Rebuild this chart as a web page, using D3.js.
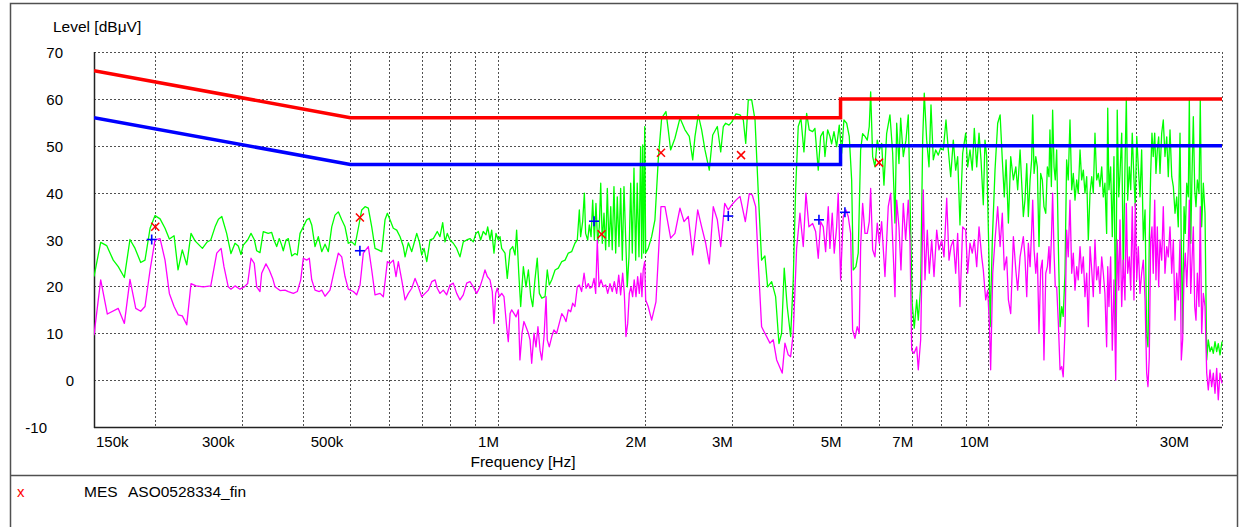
<!DOCTYPE html>
<html><head><meta charset="utf-8">
<script src="https://cdn.jsdelivr.net/npm/d3@7"></script>
<style>
html,body{margin:0;padding:0;background:#fff;}
svg{display:block;font-family:"Liberation Sans",Arial,sans-serif;}
</style></head><body>
<svg id="chart" width="1241" height="527"></svg>
<script>
// ---------- DATA (frequency in MHz, level in dBµV) ----------
const qpLimit = [[0.15,66],[0.5,56],[5,56],[5,60],[30,60]];
const avLimit = [[0.15,56],[0.5,46],[5,46],[5,50],[30,50]];

const peakTrace = [
[0.150,22.1],[0.1548,29.4],[0.1592,28.7],[0.1642,25.6],[0.1681,24.2],[0.1730,21.9],[0.1776,30.0],[0.1819,28.1],[0.1868,25.1],[0.1906,25.6],[0.1952,32.4],[0.1998,35.1],[0.2046,34.4],[0.2094,32.4],[0.2137,30.1],[0.2185,30.8],[0.2226,23.5],[0.2271,27.8],[0.2319,24.6],[0.2366,31.3],[0.2411,29.7],[0.2496,28.1],[0.2548,29.4],[0.2596,29.9],[0.2649,32.7],[0.2691,34.3],[0.2734,34.9],[0.2797,31.3],[0.2854,27.0],[0.2909,29.2],[0.2954,28.6],[0.2992,26.8],[0.3024,28.8],[0.3087,29.9],[0.3136,31.3],[0.3184,30.0],[0.3221,27.6],[0.3271,27.2],
[0.3322,31.7],[0.3400,31.3],[0.3456,31.5],[0.3493,29.9],[0.3538,28.5],[0.3581,30.2],[0.3622,28.8],[0.3649,27.6],[0.3697,29.9],[0.3737,30.2],[0.3797,26.5],[0.3856,27.0],[0.3898,26.7],[0.3948,31.3],[0.4009,32.7],[0.4074,34.2],[0.4124,34.5],[0.4171,33.1],[0.4236,28.5],[0.4302,30.6],[0.4372,27.4],[0.4440,29.0],[0.4509,27.4],[0.4582,32.7],[0.4653,35.2],[0.4726,35.9],[0.4802,34.2],[0.4877,32.7],[0.4953,29.2],[0.5033,29.5],[0.5112,28.8],[0.5191,32.4],[0.5275,36.3],[0.5358,37.0],[0.5441,36.7],[0.5529,32.7],[0.5615,28.1],[0.5703,27.8],[0.5795,27.4],[0.5885,34.2],[0.5950,35.6],[0.6025,34.2],[0.6119,32.4],[0.6218,32.0],[0.6316,30.6],[0.6414,28.5],[0.6466,26.3],[0.6567,29.3],[0.6672,27.4],[0.6745,29.2],[0.6831,31.3],[0.6915,29.5],[0.6993,26.7],[0.7069,28.1],[0.7160,25.3],[0.7272,29.9],[0.7385,30.2],[0.7522,31.7],[0.7618,30.6],[0.7716,33.6],[0.7800,29.5],[0.7884,31.3],[0.7985,29.9],
[0.8110,29.2],[0.8240,28.1],[0.8369,26.3],[0.8500,29.5],[0.8636,29.9],[0.8771,30.2],[0.8907,29.5],[0.9021,31.3],[0.9119,31.7],[0.9222,29.9],[0.9336,31.7],[0.9456,31.0],[0.9532,32.7],[0.9636,29.9],[0.9713,32.0],[0.9818,27.1],[0.9911,31.3],[1.0019,29.9],[1.010,30.6],[1.018,28.1],[1.034,27.1],[1.045,21.7],[1.059,27.8],[1.072,28.5],[1.084,26.7],[1.092,32.0],[1.103,22.8],[1.113,15.7],[1.127,24.2],[1.141,19.9],[1.154,23.5],[1.167,17.8],[1.178,15.7],[1.190,21.4],[1.203,26.0],[1.215,18.5],[1.229,17.5],[1.248,17.8],[1.261,23.5],[1.273,20.3],[1.288,21.4],[1.308,23.5],[1.328,23.9],[1.350,25.3],[1.371,25.6],[1.392,27.1],[1.414,27.4],[1.436,29.2],[1.452,29.9],[1.466,36.3],[1.475,30.6],[1.489,33.8],[1.501,39.9],[1.510,31.3],[1.525,29.9],[1.536,33.1],[1.549,30.6],[1.561,38.4],[1.573,29.9],[1.585,37.7],[1.598,29.2],[1.610,32.7],[1.621,42.0],[1.633,29.2],[1.646,35.6],[1.659,27.8],[1.672,40.9],[1.685,28.5],[1.699,37.0],[1.711,27.8],[1.725,41.3],[1.739,27.1],[1.752,39.1],[1.766,28.5],[1.780,40.9],[1.794,25.6],[1.808,41.3],[1.823,29.9],[1.836,19.9],[1.851,26.3],[1.866,42.0],[1.880,27.1],[1.895,45.2],[1.910,25.6],[1.924,42.0],[1.940,26.3],
[1.955,49.8],[1.965,26.0],[1.974,50.2],[1.983,27.1],[1.993,54.1],[2.002,27.1],[2.026,28.1],[2.059,30.6],[2.091,34.2],[2.124,47.0],[2.158,55.9],[2.202,57.3],[2.226,53.4],[2.251,49.1],[2.297,51.6],[2.352,55.9],[2.408,53.4],[2.457,52.0],[2.497,47.0],[2.524,52.0],[2.563,56.6],[2.604,53.4],[2.645,49.1],[2.699,44.8],[2.743,52.3],[2.803,54.1],[2.848,48.7],[2.883,54.1],[2.915,54.8],[2.961,54.4],[3.000,55.1],[3.060,56.8],[3.118,56.6],[3.167,55.5],[3.203,50.5],[3.242,59.8],[3.294,59.8],[3.346,55.5],[3.398,39.9],[3.451,25.6],[3.505,26.5],[3.550,19.9],[3.618,21.0],[3.686,17.8],[3.744,7.8],[3.791,10.0],[3.838,23.9],[3.892,15.7],[3.955,9.3],[4.004,21.4],[4.049,40.6],[4.099,54.1],[4.151,55.9],[4.210,48.7],[4.264,56.9],[4.316,53.4],[4.386,53.0],[4.433,53.7],[4.503,44.8],[4.554,52.0],[4.610,53.0],[4.647,47.7],[4.706,53.4],[4.757,52.0],
[4.795,50.4],[4.848,53.0],[4.909,49.8],[4.970,54.4],[5.026,48.4],[5.080,55.5],[5.146,54.8],[5.209,52.0],[5.268,42.7],[5.307,23.5],[5.375,24.2],[5.433,27.1],[5.495,49.1],[5.547,52.6],[5.608,52.0],[5.669,51.2],[5.722,54.1],[5.760,61.5],[5.814,47.7],[5.877,45.5],[5.941,51.2],[6.000,49.1],[6.065,50.5],[6.131,41.6],[6.209,52.6],[6.306,56.6],[6.387,48.4],[6.457,33.5],[6.509,54.8],[6.579,46.2],[6.632,55.9],[6.714,47.7],[6.799,51.2],[6.873,56.6],[6.928,39.1],[7.000,16.4],[7.069,11.1],[7.150,17.1],[7.204,12.8],[7.285,19.9],[7.354,51.2],[7.409,61.2],[7.494,51.2],[7.576,45.5],[7.647,58.7],[7.730,47.0],[7.818,49.1],[7.914,48.0],[8.000,49.5],[8.102,49.1],[8.205,55.5],[8.295,49.1],[8.389,43.4],[8.491,51.2],[8.587,44.8],[8.668,47.7],[8.762,33.1],[8.874,48.4],[9.000,52.7],[9.085,45.5],[9.184,49.1],[9.283,44.8],[9.372,53.7],[9.479,45.5],[9.582,52.7],[9.672,47.0],[9.777,37.4],[9.855,51.2],[9.934,47.7],[10.04,26.3],[10.10,11.4],[10.20,29.9],[10.33,44.8],[10.46,54.8],[10.58,56.6],[10.69,47.0],[10.79,39.1],[10.88,47.0],[11.00,33.5],[11.12,47.7],[11.26,42.7],[11.39,45.5],[11.49,40.6],[11.62,49.1],
[11.80,34.9],[11.89,38.4],[11.99,46.2],[12.08,34.9],[12.18,42.7],[12.27,47.0],[12.33,56.6],[12.41,44.1],[12.51,47.7],[12.60,45.5],[12.70,28.5],[12.80,44.1],[12.90,42.7],[13.00,37.0],[13.11,35.6],[13.21,45.5],[13.31,43.4],[13.37,53.4],[13.46,41.3],[13.54,57.6],[13.63,45.5],[13.71,42.7],[13.80,49.1],[13.91,28.5],[14.02,11.4],[14.13,15.7],[14.23,13.6],[14.35,22.8],[14.46,47.0],[14.57,42.7],[14.69,55.5],[14.81,40.6],[14.92,44.1],[15.04,38.4],[15.16,42.7],[15.27,39.9],[15.40,49.1],[15.52,42.7],[15.64,44.8],[15.76,39.9],[15.89,43.4],[16.01,29.9],[16.14,39.9],[16.27,43.4],[16.39,39.9],[16.52,52.7],[16.65,42.7],[16.78,44.1],[16.91,41.3],[17.05,45.5],[17.18,39.1],[17.31,42.0],[17.45,31.3],[17.54,58.0],[17.64,40.6],[17.78,45.5],[17.92,30.6],[18.06,47.7],[18.21,10.0],[18.34,57.6],[18.47,39.1],[18.58,44.1],[18.73,52.7],[18.87,22.8],[19.02,45.5],[19.14,60.1],[19.26,38.4],[19.41,45.5],[19.54,40.6],[19.68,52.7],[19.84,42.7],[19.96,37.0],[20.10,52.0],[20.25,45.5],[20.41,39.1],[20.57,49.1],[20.73,29.9],[20.90,36.3],[21.06,9.3],[21.19,7.1],[21.32,29.9],[21.46,44.1],[21.59,52.7],[21.72,47.7],[21.87,52.7],[22.00,44.1],[22.14,49.1],[22.28,51.9],[22.42,44.1],[22.60,52.7],[22.77,55.5],[22.95,47.7],[23.14,51.9],[23.31,43.4],[23.50,53.4],[23.69,43.4],[23.87,41.3],[24.06,35.6],[24.25,39.1],[24.43,32.7],[24.63,52.7],[24.78,28.5],[24.94,10.0],[25.10,37.0],[25.25,31.3],[25.42,42.0],[25.61,39.1],[25.73,60.1],[25.90,29.2],[26.06,44.1],[26.22,56.2],[26.39,40.6],[26.55,37.0],[26.72,42.7],[26.93,39.9],[27.09,59.8],[27.27,32.7],[27.48,42.0],[27.70,35.6],[27.92,4.3],[28.13,8.6],[28.36,6.1],[28.58,7.1],[28.80,5.7],[29.03,8.2],[29.26,6.1],[29.48,7.8],[29.72,5.4],[30.00,8.2]
];

const avgTrace = [
[0.150,9.6],[0.1548,21.4],[0.1597,14.1],[0.1681,15.3],[0.1730,12.1],[0.1776,21.5],[0.1825,15.3],[0.1868,14.7],[0.1906,15.7],[0.1952,23.5],[0.1998,29.9],[0.2046,30.2],[0.2094,25.6],[0.2137,18.5],[0.2185,15.7],[0.2229,13.9],[0.2271,13.7],[0.2319,11.8],[0.2366,20.6],[0.2423,20.1],[0.2507,19.9],[0.2596,20.1],[0.2670,27.1],[0.2725,28.1],[0.2762,24.2],[0.2818,19.9],[0.2854,19.4],[0.2909,20.1],[0.2978,19.4],[0.3038,19.9],[0.3087,20.6],[0.3136,26.0],[0.3184,24.9],[0.3221,19.9],[0.3271,18.9],
[0.3297,22.8],[0.3364,24.8],[0.3417,23.5],[0.3472,21.7],[0.3510,19.9],[0.3594,19.1],[0.3679,19.2],[0.3737,18.9],[0.3826,18.5],[0.3898,18.9],[0.3961,21.4],[0.4009,26.0],[0.4074,25.6],[0.4124,26.0],[0.4171,21.4],[0.4236,19.2],[0.4322,18.9],[0.4372,19.2],[0.4440,17.9],[0.4545,19.2],[0.4631,23.1],[0.4726,27.1],[0.4802,26.3],[0.4877,22.1],[0.4953,19.4],[0.5071,18.9],[0.5152,18.2],[0.5233,20.3],[0.5315,27.1],[0.5441,28.5],[0.5529,23.5],[0.5615,18.2],[0.5749,18.5],[0.5839,17.8],[0.5950,25.3],[0.6025,24.9],[0.6119,25.6],[0.6197,22.1],[0.6265,25.3],[0.6365,21.4],[0.6466,17.1],[0.6567,18.5],[0.6672,19.6],[0.6777,21.7],[0.6882,19.9],[0.6993,17.8],[0.7103,18.5],[0.7214,19.2],[0.7330,21.0],[0.7445,21.4],[0.7522,19.6],[0.7618,18.5],[0.7738,19.2],[0.7862,18.2],[0.7985,20.3],
[0.8110,20.7],[0.8240,18.5],[0.8369,17.1],[0.8500,18.2],[0.8636,20.7],[0.8771,21.0],[0.8907,19.9],[0.9051,18.5],[0.9193,19.9],[0.9310,21.7],[0.9412,23.5],[0.9514,22.1],[0.9636,21.4],[0.9740,18.9],[0.9818,12.1],[0.9897,18.5],[0.9972,19.6],[1.007,17.8],[1.018,18.5],[1.029,17.8],[1.042,11.4],[1.050,8.2],[1.059,14.2],[1.067,15.0],[1.079,14.2],[1.089,13.5],[1.101,15.0],[1.109,4.3],[1.120,10.0],[1.130,12.5],[1.141,11.4],[1.154,10.0],[1.163,8.6],[1.172,3.6],[1.185,10.0],[1.196,7.1],[1.207,11.4],[1.219,6.4],[1.229,4.3],[1.242,9.3],[1.254,17.8],[1.261,8.6],[1.273,7.1],[1.288,9.3],[1.301,10.7],[1.318,10.0],[1.334,12.1],[1.350,14.2],[1.364,13.5],[1.377,12.5],[1.392,15.0],[1.408,14.6],[1.421,16.4],[1.436,15.7],[1.452,19.9],[1.466,20.3],[1.482,18.9],[1.499,22.8],[1.513,19.6],[1.529,20.6],[1.541,19.6],[1.556,19.9],[1.571,21.7],[1.583,18.5],[1.595,29.9],[1.608,19.9],[1.623,21.4],[1.641,19.9],[1.659,20.3],[1.675,18.5],[1.693,20.6],[1.711,18.9],[1.728,21.0],[1.747,18.5],[1.764,22.4],[1.780,18.2],[1.797,22.8],[1.811,18.5],[1.825,9.3],[1.840,12.1],[1.854,18.5],[1.868,19.9],[1.883,17.8],[1.897,21.4],[1.913,17.8],[1.928,22.1],[1.943,18.5],
[1.958,22.8],[1.967,17.8],[1.979,23.5],[1.993,25.3],[2.002,17.1],[2.026,15.7],[2.059,12.8],[2.101,16.7],[2.151,37.0],[2.192,37.0],[2.251,30.3],[2.297,31.3],[2.352,36.7],[2.397,33.8],[2.446,34.9],[2.497,26.7],[2.556,36.3],[2.604,32.7],[2.654,29.2],[2.699,24.8],[2.750,37.0],[2.803,34.2],[2.848,28.5],[2.902,37.7],[2.951,36.3],[3.000,37.4],[3.060,38.4],[3.118,39.2],[3.197,33.8],[3.257,39.8],[3.303,39.5],[3.356,37.0],[3.398,24.9],[3.451,11.4],[3.505,10.0],[3.589,7.9],[3.645,8.6],[3.704,4.3],[3.802,1.5],[3.851,7.9],[3.911,5.4],[3.955,5.0],[4.004,10.0],[4.068,28.1],[4.132,35.6],[4.197,28.5],[4.250,39.9],[4.310,32.7],[4.386,33.4],[4.448,31.7],[4.503,26.0],[4.554,33.8],[4.610,32.7],[4.662,27.4],[4.720,37.0],[4.757,28.1],
[4.809,35.6],[4.854,27.1],[4.909,32.7],[4.946,39.9],[5.002,21.4],[5.064,34.9],[5.129,36.3],[5.184,34.9],[5.243,31.3],[5.292,10.7],[5.350,8.9],[5.408,11.4],[5.459,10.0],[5.495,28.5],[5.547,37.7],[5.608,31.3],[5.669,31.3],[5.722,33.8],[5.760,40.9],[5.814,27.8],[5.877,26.3],[5.941,33.5],[6.000,29.2],[6.065,33.8],[6.160,22.1],[6.256,37.0],[6.327,39.9],[6.387,29.9],[6.457,17.8],[6.509,38.4],[6.579,32.7],[6.641,23.5],[6.714,37.7],[6.789,29.9],[6.873,38.4],[6.928,29.9],[6.984,6.4],[7.059,5.7],[7.150,7.1],[7.204,2.2],[7.285,8.6],[7.375,40.6],[7.434,21.4],[7.515,32.0],[7.586,22.8],[7.673,29.9],[7.756,22.1],[7.855,32.0],[7.940,27.8],[8.041,29.9],[8.129,26.3],[8.233,38.8],[8.322,25.6],[8.401,28.5],[8.491,29.9],[8.587,22.8],[8.668,31.3],[8.762,15.7],[8.874,32.7],[9.000,32.0],[9.085,22.8],[9.184,29.2],[9.283,27.1],[9.372,29.9],[9.479,24.2],[9.582,32.7],[9.704,26.3],[9.777,23.5],[9.888,17.1],[9.98,19.2],[10.06,12.1],[10.12,2.2],[10.22,22.8],[10.33,29.9],[10.46,37.0],[10.58,28.5],[10.69,35.6],[10.79,23.5],[10.91,26.3],[11.00,17.1],[11.12,14.2],[11.26,30.6],[11.39,23.5],[11.49,19.2],[11.62,26.3],
[11.80,30.6],[11.89,26.3],[11.99,17.8],[12.08,29.2],[12.18,24.2],[12.27,32.0],[12.33,38.4],[12.41,27.8],[12.51,22.8],[12.60,27.1],[12.70,10.0],[12.80,23.5],[12.90,25.6],[13.00,4.3],[13.11,22.8],[13.21,24.2],[13.31,28.5],[13.37,22.8],[13.46,29.9],[13.54,39.9],[13.63,27.1],[13.71,19.9],[13.80,19.9],[13.91,12.1],[14.02,2.2],[14.13,2.9],[14.23,0.7],[14.35,10.7],[14.46,32.0],[14.57,26.3],[14.69,38.4],[14.81,22.8],[14.92,27.1],[15.04,19.2],[15.16,24.2],[15.27,21.4],[15.40,28.5],[15.52,22.8],[15.64,26.3],[15.76,17.8],[15.89,22.8],[16.01,11.4],[16.14,28.5],[16.27,23.5],[16.39,17.8],[16.52,29.9],[16.65,21.4],[16.78,24.2],[16.91,18.5],[17.05,26.3],[17.18,22.8],[17.31,18.5],[17.45,7.1],[17.54,24.2],[17.64,15.7],[17.78,26.3],[17.92,6.4],[18.06,21.4],[18.21,0.0],[18.34,29.9],[18.47,19.2],[18.58,34.2],[18.73,15.7],[18.87,25.6],[19.02,17.1],[19.14,37.7],[19.26,22.8],[19.41,26.3],[19.54,19.2],[19.68,37.0],[19.84,17.1],[19.96,37.7],[20.10,21.4],[20.25,28.5],[20.41,18.5],[20.57,22.8],[20.73,25.6],[20.90,17.1],[21.06,1.5],[21.19,-1.4],[21.32,5.0],[21.46,29.9],[21.59,32.7],[21.72,22.8],[21.87,38.4],[22.00,21.4],[22.14,32.7],[22.28,19.9],[22.42,29.9],[22.60,25.6],[22.77,37.0],[22.95,22.8],[23.14,28.5],[23.31,26.3],[23.50,32.7],[23.69,22.8],[23.87,29.9],[24.06,12.8],[24.25,22.8],[24.43,17.1],[24.63,29.9],[24.78,4.3],[24.94,8.6],[25.10,22.8],[25.25,27.1],[25.42,19.9],[25.61,28.5],[25.73,38.4],[25.90,18.5],[26.06,25.6],[26.22,32.7],[26.39,15.7],[26.55,12.8],[26.72,22.8],[26.93,15.7],[27.09,37.0],[27.27,10.0],[27.48,18.5],[27.70,15.7],[27.92,1.5],[28.13,-2.1],[28.36,2.2],[28.58,-1.4],[28.80,1.5],[29.03,-2.8],[29.26,2.5],[29.48,-4.2],[29.72,1.5],[30.00,-0.7]
];

const finalQP = [[0.200,32.7],[0.523,34.7],[1.627,31.1],[2.151,48.5],[3.133,48.0],[5.99,46.4]];
const finalAV = [[0.1967,30.0],[0.523,27.6],[1.571,33.9],[2.951,35.0],[4.518,34.2],[5.104,35.8]];

const yTicks = [70,60,50,40,30,20,10,0,-10];
const xGridValues = [0.2,0.3,0.4,0.5,0.6,0.7,0.8,0.9,1,2,3,4,5,6,7,8,9,10,20];
const xTickValues = [0.15,0.3,0.5,1,2,3,5,7,10,30];
const xTickLabels = ["150k","300k","500k","1M","2M","3M","5M","7M","10M","30M"];
const yTitle = "Level [dBμV]";
const xTitle = "Frequency [Hz]";
const legendType = "MES";
const legendName = "ASO0528334_fin";

// ---------- DRAWING ----------
const svg = d3.select("#chart");
const x = d3.scaleLog().domain([0.15,30]).range([94,1222]);
const y = d3.scaleLinear().domain([-10,70]).range([427,52]);
const px = v => Math.round(v) + 0.5;

// outer frame and legend separator
svg.append("rect").attr("x",10.5).attr("y",3.5).attr("width",1227).attr("height",600)
  .attr("fill","none").attr("stroke","#505050").attr("stroke-width",1.5);
svg.append("line").attr("x1",10).attr("x2",1238).attr("y1",475.5).attr("y2",475.5)
  .attr("stroke","#505050").attr("stroke-width",1.5);

// grid
const grid = svg.append("g").attr("stroke","#333").attr("stroke-width",1).attr("stroke-dasharray","2,2").attr("opacity",0.85);
xGridValues.concat([30]).forEach(v => {
  grid.append("line").attr("x1",px(x(v))).attr("x2",px(x(v))).attr("y1",y(70)).attr("y2",y(-10));
});
yTicks.filter(v => v > -10).forEach(v => {
  grid.append("line").attr("x1",x(0.15)).attr("x2",x(30)).attr("y1",px(y(v))).attr("y2",px(y(v)));
});

// axes (solid)
svg.append("line").attr("x1",px(x(0.15))).attr("x2",px(x(0.15))).attr("y1",y(70)).attr("y2",y(-10)+1)
  .attr("stroke","#222").attr("stroke-width",1.5);
svg.append("line").attr("x1",x(0.15)).attr("x2",x(30)).attr("y1",px(y(-10))).attr("y2",px(y(-10)))
  .attr("stroke","#222").attr("stroke-width",1.5);

// y labels
const yLab = svg.append("g").attr("font-size",15).attr("fill","#000").attr("text-anchor","end");
yTicks.forEach(v => {
  const xr = v === 0 ? 74 : (v < 0 ? 47 : 63);
  yLab.append("text").attr("x",xr).attr("y",y(v)+6).text(v);
});

// x labels
const xLab = svg.append("g").attr("font-size",15).attr("fill","#000");
xTickValues.forEach((v,i) => {
  const t = xLab.append("text").attr("y",447).text(xTickLabels[i]);
  if (i === 0) { t.attr("x", x(v)+2).attr("text-anchor","start"); }
  else if (i === xTickValues.length-1) { t.attr("x", x(v)-33).attr("text-anchor","end"); }
  else { const isK = xTickLabels[i].endsWith("k"); t.attr("x", x(v) + (isK ? -7 : 1)).attr("text-anchor","end"); }
});

// titles
svg.append("text").attr("x",53).attr("y",31.5).attr("font-size",15.5).text(yTitle);
svg.append("text").attr("x",523).attr("y",467).attr("font-size",15.5).attr("text-anchor","middle").text(xTitle);

// clip
svg.append("clipPath").attr("id","plotclip").append("rect")
  .attr("x",x(0.15)).attr("y",y(70)-2).attr("width",x(30)-x(0.15)+1).attr("height",y(-10)-y(70)+2);

const line = d3.line().x(d => x(d[0])).y(d => y(d[1]));
const plot = svg.append("g").attr("clip-path","url(#plotclip)");
plot.append("path").datum(peakTrace).attr("d",line).attr("fill","none").attr("stroke","#00ff00").attr("stroke-width",1.3).attr("stroke-linejoin","round");
plot.append("path").datum(avgTrace).attr("d",line).attr("fill","none").attr("stroke","#ff00ff").attr("stroke-width",1.3).attr("stroke-linejoin","round");
plot.append("path").datum(avLimit).attr("d",line).attr("fill","none").attr("stroke","#0000ff").attr("stroke-width",3.5);
plot.append("path").datum(qpLimit).attr("d",line).attr("fill","none").attr("stroke","#ff0000").attr("stroke-width",3.5);

// final markers
const mk = svg.append("g");
finalAV.forEach(d => {
  const cx = x(d[0]), cy = y(d[1]);
  mk.append("line").attr("x1",cx-5).attr("x2",cx+5).attr("y1",cy).attr("y2",cy).attr("stroke","#0000ff").attr("stroke-width",1.6);
  mk.append("line").attr("x1",cx).attr("x2",cx).attr("y1",cy-5).attr("y2",cy+5).attr("stroke","#0000ff").attr("stroke-width",1.6);
});
finalQP.forEach(d => {
  const cx = x(d[0]), cy = y(d[1]);
  mk.append("line").attr("x1",cx-4).attr("x2",cx+4).attr("y1",cy-4).attr("y2",cy+4).attr("stroke","#ff0000").attr("stroke-width",1.5);
  mk.append("line").attr("x1",cx-4).attr("x2",cx+4).attr("y1",cy+4).attr("y2",cy-4).attr("stroke","#ff0000").attr("stroke-width",1.5);
});

// legend
svg.append("text").attr("x",17).attr("y",497).attr("font-size",15).attr("fill","#ff0000").text("x");
svg.append("text").attr("x",84).attr("y",497).attr("font-size",15.5).attr("fill","#000").text(legendType);
svg.append("text").attr("x",128).attr("y",497).attr("font-size",15.5).attr("fill","#000").text(legendName);
</script>
</body></html>
